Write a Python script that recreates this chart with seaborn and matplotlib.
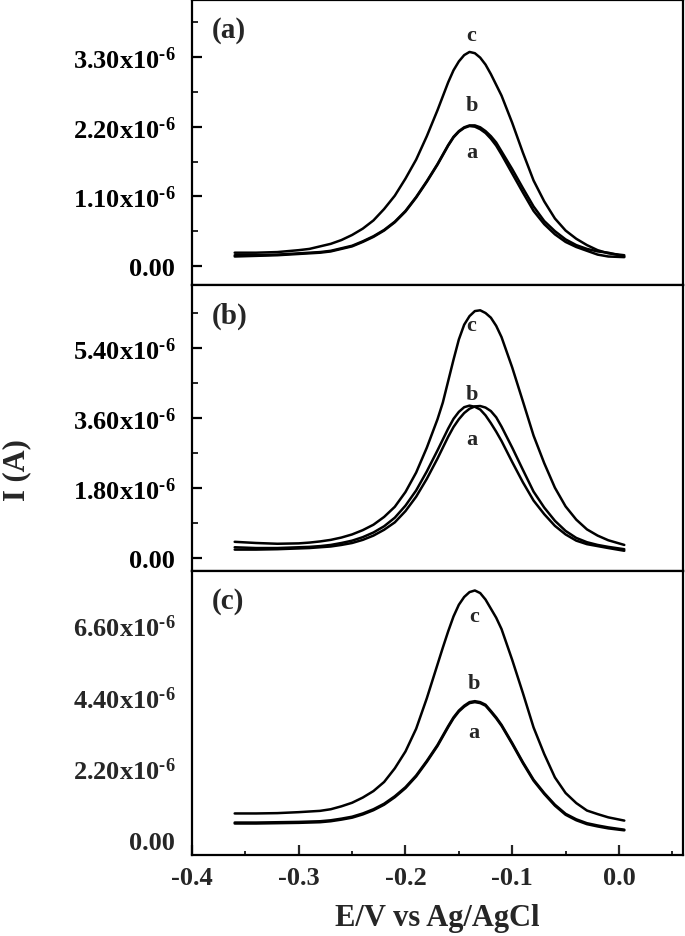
import matplotlib
matplotlib.use("Agg")
import numpy as np
import pandas as pd
import seaborn as sns
import matplotlib.pyplot as plt
from matplotlib.ticker import FixedLocator, FixedFormatter, MultipleLocator

# Potential (V vs Ag/AgCl)
E = [-0.36, -0.34, -0.32, -0.30, -0.29, -0.28, -0.27, -0.26, -0.25, -0.24,
     -0.23, -0.22, -0.21, -0.20, -0.19, -0.18, -0.17, -0.165, -0.16, -0.155,
     -0.15, -0.145, -0.14, -0.135, -0.13, -0.125, -0.12, -0.115, -0.11, -0.10,
     -0.09, -0.08, -0.07, -0.06, -0.05, -0.04, -0.03, -0.02, -0.01, 0.005]

# Currents in units of 1e-6 A
# Panel (a)
pa_a = [0.15, 0.16, 0.17, 0.19, 0.20, 0.21, 0.23, 0.27, 0.31, 0.38,
        0.46, 0.56, 0.69, 0.86, 1.08, 1.33, 1.60, 1.75, 1.90, 2.03,
        2.12, 2.18, 2.21, 2.20, 2.16, 2.10, 2.01, 1.90, 1.76, 1.46,
        1.16, 0.87, 0.66, 0.50, 0.38, 0.30, 0.24, 0.18, 0.15, 0.14]
pa_b = [0.17, 0.17, 0.18, 0.20, 0.21, 0.22, 0.24, 0.28, 0.32, 0.39,
        0.47, 0.57, 0.70, 0.87, 1.09, 1.34, 1.61, 1.76, 1.91, 2.04,
        2.13, 2.19, 2.22, 2.22, 2.19, 2.13, 2.05, 1.95, 1.81, 1.53,
        1.23, 0.94, 0.71, 0.55, 0.42, 0.33, 0.27, 0.23, 0.21, 0.15]
pa_c = [0.21, 0.21, 0.22, 0.25, 0.27, 0.31, 0.35, 0.41, 0.49, 0.59,
        0.72, 0.90, 1.11, 1.38, 1.68, 2.05, 2.46, 2.68, 2.90, 3.09,
        3.23, 3.33, 3.38, 3.36, 3.29, 3.18, 3.03, 2.86, 2.69, 2.26,
        1.79, 1.35, 1.02, 0.75, 0.56, 0.43, 0.33, 0.25, 0.20, 0.17]
# Panel (b)
pb_a = [0.28, 0.26, 0.26, 0.28, 0.29, 0.31, 0.34, 0.39, 0.45, 0.54,
        0.66, 0.82, 1.04, 1.35, 1.74, 2.23, 2.77, 3.05, 3.33, 3.58,
        3.76, 3.88, 3.92, 3.89, 3.82, 3.67, 3.47, 3.25, 3.01, 2.47,
        1.95, 1.48, 1.13, 0.83, 0.61, 0.45, 0.36, 0.31, 0.26, 0.19]
pb_b = [0.22, 0.22, 0.23, 0.25, 0.26, 0.28, 0.30, 0.34, 0.39, 0.47,
        0.58, 0.73, 0.92, 1.21, 1.58, 2.04, 2.56, 2.84, 3.12, 3.37,
        3.57, 3.73, 3.84, 3.90, 3.91, 3.87, 3.78, 3.62, 3.38, 2.84,
        2.27, 1.71, 1.30, 0.96, 0.70, 0.52, 0.41, 0.34, 0.29, 0.23]
pb_c = [0.42, 0.39, 0.37, 0.38, 0.40, 0.43, 0.47, 0.53, 0.61, 0.72,
        0.86, 1.06, 1.32, 1.70, 2.20, 2.84, 3.57, 4.00, 4.55, 5.10,
        5.62, 6.00, 6.22, 6.35, 6.37, 6.30, 6.18, 5.97, 5.68, 4.90,
        4.03, 3.15, 2.44, 1.81, 1.33, 0.99, 0.74, 0.58, 0.46, 0.34]
# Panel (c)
pc_a = [0.50, 0.50, 0.51, 0.52, 0.53, 0.54, 0.57, 0.62, 0.68, 0.78,
        0.91, 1.08, 1.31, 1.59, 1.95, 2.40, 2.89, 3.18, 3.47, 3.74,
        3.95, 4.10, 4.21, 4.24, 4.21, 4.13, 3.94, 3.74, 3.51, 2.95,
        2.36, 1.82, 1.41, 1.05, 0.77, 0.60, 0.48, 0.41, 0.35, 0.29]
pc_b = [0.53, 0.53, 0.54, 0.55, 0.56, 0.57, 0.60, 0.65, 0.71, 0.81,
        0.94, 1.11, 1.34, 1.62, 1.98, 2.43, 2.92, 3.21, 3.50, 3.77,
        3.98, 4.13, 4.24, 4.27, 4.24, 4.16, 3.97, 3.77, 3.54, 2.98,
        2.39, 1.85, 1.44, 1.08, 0.80, 0.63, 0.51, 0.44, 0.38, 0.31]
pc_c = [0.81, 0.81, 0.82, 0.85, 0.87, 0.89, 0.94, 1.03, 1.14, 1.30,
        1.50, 1.78, 2.20, 2.72, 3.42, 4.36, 5.40, 5.92, 6.42, 6.88,
        7.24, 7.48, 7.63, 7.68, 7.60, 7.40, 7.12, 6.84, 6.49, 5.54,
        4.52, 3.46, 2.64, 1.92, 1.44, 1.13, 0.90, 0.79, 0.69, 0.59]

panel_names = ["(a)", "(b)", "(c)"]
curve_names = ["a", "b", "c"]
panels = [[pa_a, pa_b, pa_c], [pb_a, pb_b, pb_c], [pc_a, pc_b, pc_c]]

# Y tick values (1e-6 A) per panel
yticks = [[0.00, 1.10, 2.20, 3.30], [0.00, 1.80, 3.60, 5.40], [0.00, 2.20, 4.40, 6.60]]
ylims = [(-0.30, 4.20), (-0.33, 7.02), (-0.47, 8.28)]
# curve label positions (E, I in 1e-6 A)
label_pos = [
    [(-0.138, 1.80), (-0.138, 2.54), (-0.138, 3.64)],
    [(-0.138, 3.05), (-0.138, 4.23), (-0.138, 6.00)],
    [(-0.136, 3.31), (-0.136, 4.82), (-0.136, 6.88)],
]

sns.set_theme(style="ticks")
plt.rcParams['font.family'] = ['Liberation Serif', 'DejaVu Serif']
plt.rcParams['font.weight'] = 'bold'
plt.rcParams['mathtext.fontset'] = 'custom'
plt.rcParams['mathtext.rm'] = 'Liberation Serif:bold'
plt.rcParams['mathtext.it'] = 'Liberation Serif:bold'
plt.rcParams['mathtext.bf'] = 'Liberation Serif:bold'
plt.rcParams['axes.linewidth'] = 1.6

fig = plt.figure(figsize=(6.85, 9.37), dpi=100)
left, right = 192 / 685, 683 / 685
edges = [1, 286, 572, 856]
axes = []
for i in range(3):
    top = 1 - edges[i] / 937
    bot = 1 - edges[i + 1] / 937
    ax = fig.add_axes([left, bot, right - left, top - bot])
    axes.append(ax)

for i, ax in enumerate(axes):
    rows = []
    for name, vals in zip(curve_names, panels[i]):
        for e, v in zip(E, vals):
            rows.append({"E": e, "I": v * 1e-6, "curve": name})
    df = pd.DataFrame(rows)
    sns.lineplot(data=df, x="E", y="I", units="curve", estimator=None,
                 color="black", linewidth=1.8, ax=ax, legend=False, sort=False)
    for ln in ax.get_lines():
        ln.set_solid_joinstyle("round")
    ax.set_xlim(-0.4, 0.06)
    ax.set_ylim(ylims[i][0] * 1e-6, ylims[i][1] * 1e-6)
    for sp in ax.spines.values():
        sp.set_visible(True)
        sp.set_linewidth(1.6)
        sp.set_color("black")
    tv = yticks[i]
    ax.yaxis.set_major_locator(FixedLocator([t * 1e-6 for t in tv]))
    labs = ["0.00"] + [f"{t:.2f}x10$^{{\\text{{-6}}}}$" for t in tv[1:]]
    ax.yaxis.set_major_formatter(FixedFormatter(labs))
    step = (tv[1] - tv[0]) / 2
    if i < 2:
        minors = [(k + 0.5) * 2 * step * 1e-6 for k in range(-1, 5)]
        ax.yaxis.set_minor_locator(FixedLocator(minors))
        ax.tick_params(axis="y", which="major", direction="in", length=7,
                       width=1.6, labelsize=19, pad=12, colors="black")
        ax.tick_params(axis="y", which="minor", direction="in", length=4,
                       width=1.4)
    else:
        ax.tick_params(axis="y", which="major", length=0, labelsize=19, pad=12)
    for lab in ax.get_yticklabels():
        lab.set_fontweight("bold")
    ax.set_xlabel("")
    ax.set_ylabel("")
    if i < 2:
        ax.tick_params(axis="x", which="both", length=0, labelbottom=False)
    else:
        ax.xaxis.set_minor_locator(MultipleLocator(0.05))
        ax.set_xticks([-0.4, -0.3, -0.2, -0.1, 0.0])
        ax.set_xticklabels(["-0.4", "-0.3", "-0.2", "-0.1", "0.0"])
        ax.tick_params(axis="x", which="major", direction="in", length=7,
                       width=1.6, labelsize=19, pad=8)
        ax.tick_params(axis="x", which="minor", direction="in", length=3,
                       width=1.4)
        ax.set_xlabel("E/V vs Ag/AgCl", fontsize=22, fontweight="bold", labelpad=10)
    ax.text(0.04, 0.895, panel_names[i], transform=ax.transAxes, fontsize=21,
            fontweight="bold", ha="left", va="center")
    for name, (xe, yv) in zip(curve_names, label_pos[i]):
        ax.text(xe, yv * 1e-6, name, fontsize=16, fontweight="bold",
                ha="center", va="center")
    ax.yaxis.get_offset_text().set_visible(False)

fig.text(0.024, 0.498, "I (A)", rotation=90, fontsize=22, fontweight="bold",
         ha="center", va="center")

fig.savefig("out.png", dpi=100)
